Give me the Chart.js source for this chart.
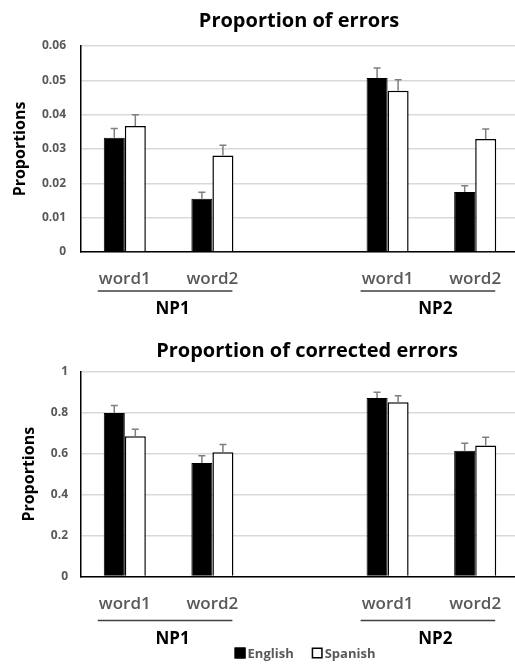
<!DOCTYPE html>
<html><head><meta charset="utf-8">
<script src="https://cdn.jsdelivr.net/npm/chart.js@4/dist/chart.umd.min.js"></script>
<style>
html,body{margin:0;padding:0;background:#fff;width:515px;height:665px;overflow:hidden;position:relative;}
#c1{position:absolute;left:0;top:0;}
#c2{position:absolute;left:0;top:320px;}
</style></head><body>
<canvas id="c1" width="525" height="320"></canvas>
<canvas id="c2" width="525" height="345"></canvas>
<script>
// ---- data ----
const categories = ['word1', 'word2', '', 'word1', 'word2'];
const groups = ['NP1', 'NP2'];
const seriesNames = ['English', 'Spanish'];
const chartTitles = ['Proportion of errors', 'Proportion of corrected errors'];
const yAxisTitle = 'Proportions';

const errorsEnglish    = [0.0333, 0.0155, null, 0.0507, 0.0175];
const errorsSpanish    = [0.0367, 0.0281, null, 0.0470, 0.0329];
const errorsEnglishErr = [0.0027, 0.0019, null, 0.0029, 0.0018];
const errorsSpanishErr = [0.0033, 0.0030, null, 0.0032, 0.0029];
const errorsTicks      = ['0', '0.01', '0.02', '0.03', '0.04', '0.05', '0.06'];

const correctedEnglish    = [0.800, 0.555, null, 0.873, 0.615];
const correctedSpanish    = [0.686, 0.607, null, 0.852, 0.640];
const correctedEnglishErr = [0.036, 0.035, null, 0.028, 0.037];
const correctedSpanishErr = [0.034, 0.039, null, 0.032, 0.041];
const correctedTicks      = ['0', '0.2', '0.4', '0.6', '0.8', '1'];

const FONT = "'Open Sans', sans-serif";
Chart.defaults.font.family = FONT;
Chart.defaults.devicePixelRatio = 1;

const errorBars = {
  id: 'errorBars',
  afterDatasetsDraw(chart) {
    const ctx = chart.ctx, ys = chart.scales.y;
    chart.data.datasets.forEach((ds, i) => {
      const meta = chart.getDatasetMeta(i);
      meta.data.forEach((bar, j) => {
        const v = ds.data[j], e = ds.errors[j];
        if (v == null || e == null) return;
        const x = bar.x, y0 = ys.getPixelForValue(v), y1 = ys.getPixelForValue(v + e);
        ctx.save();
        ctx.strokeStyle = '#7f7f7f';
        ctx.lineWidth = 1.5;
        ctx.beginPath();
        ctx.moveTo(x, y0); ctx.lineTo(x, y1);
        ctx.moveTo(x - 3.5, y1); ctx.lineTo(x + 3.5, y1);
        ctx.stroke();
        ctx.restore();
      });
    });
  }
};

const decor = {
  id: 'decor',
  afterDraw(chart, args, o) {
    const ctx = chart.ctx, xs = chart.scales.x, ca = chart.chartArea;
    ctx.save();
    // title
    ctx.fillStyle = '#000';
    ctx.font = 'bold ' + o.titleSize + 'px ' + FONT;
    ctx.textAlign = 'center';
    ctx.textBaseline = 'middle';
    ctx.fillText(o.title, (ca.left + ca.right) / 2 + o.titleDx, o.titleY);
    // group underlines and labels
    groups.forEach((g, k) => {
      const a = xs.getPixelForValue(k * 3), b = xs.getPixelForValue(k * 3 + 1);
      ctx.strokeStyle = '#404040';
      ctx.lineWidth = 1.5;
      ctx.beginPath();
      ctx.moveTo(a - 27, ca.bottom + o.lineDy);
      ctx.lineTo(b + 20, ca.bottom + o.lineDy);
      ctx.stroke();
      ctx.fillStyle = '#000';
      ctx.font = 'bold 17px ' + FONT;
      ctx.textAlign = 'center';
      ctx.fillText(g, (a + b) / 2 + 4, ca.bottom + o.groupDy);
    });
    // legend
    if (o.legendY) {
      ctx.font = 'bold 13px ' + FONT;
      ctx.textAlign = 'left';
      const sq = 11, gap = 2, sp = 18;
      const widths = seriesNames.map(n => ctx.measureText(n).width);
      const total = widths.reduce((s, w) => s + sq + gap + w, 0) + sp;
      let x = (ca.left + ca.right) / 2 + 5 - total / 2;
      const y = o.legendY;
      chart.data.datasets.forEach((ds, i) => {
        ctx.fillStyle = ds.backgroundColor;
        ctx.fillRect(x, y - sq / 2, sq, sq);
        ctx.strokeStyle = '#000';
        ctx.lineWidth = 1.5;
        ctx.strokeRect(x + 0.75, y - sq / 2 + 0.75, sq - 1.5, sq - 1.5);
        ctx.fillStyle = '#595959';
        ctx.fillText(seriesNames[i], x + sq + gap, y + 1);
        x += sq + gap + widths[i] + sp;
      });
    }
    ctx.restore();
  }
};

function makeChart(id, eng, spa, engErr, spaErr, ticks, max, step, opt) {
  return new Chart(document.getElementById(id), {
    type: 'bar',
    data: {
      labels: categories,
      datasets: [
        { label: seriesNames[0], data: eng, errors: engErr, backgroundColor: '#000', borderColor: '#000', borderWidth: 1 },
        { label: seriesNames[1], data: spa, errors: spaErr, backgroundColor: '#fff', borderColor: '#000', borderWidth: 1.5 }
      ]
    },
    options: {
      responsive: false,
      animation: false,
      devicePixelRatio: 1,
      layout: { padding: { top: opt.top, right: 6, left: 0, bottom: 0 } },
      datasets: { bar: { categoryPercentage: 0.48, barPercentage: 1.0 } },
      plugins: {
        legend: { display: false },
        tooltip: { enabled: false },
        decor: opt.decor
      },
      scales: {
        x: {
          grid: { display: false, drawTicks: false },
          border: { display: true, color: '#000', width: 1.5 },
          ticks: { color: '#595959', font: { size: 17, weight: '600' }, padding: opt.xPad, autoSkip: false, maxRotation: 0 },
          afterFit: s => { s.height = opt.xHeight; }
        },
        y: {
          min: 0, max: max,
          grid: { color: '#d9d9d9', lineWidth: 1.5, drawTicks: false, tickLength: 0 },
          border: { display: true, color: '#000', width: 1.5 },
          ticks: {
            stepSize: step, padding: opt.yPad, color: '#595959',
            font: { size: 12, weight: 'bold' },
            callback: (v, i) => ticks[i]
          },
          title: { display: true, text: yAxisTitle, color: '#000', font: { size: 16, weight: 'bold' }, padding: { top: opt.yTitlePad, bottom: 0 } },
          afterFit: s => { s.width = 81; }
        }
      }
    },
    plugins: [errorBars, decor]
  });
}

makeChart('c1', errorsEnglish, errorsSpanish, errorsEnglishErr, errorsSpanishErr, errorsTicks, 0.06, 0.01, {
  top: 46, xHeight: 68, xPad: 17, yPad: 15, yTitlePad: 11,
  decor: { title: chartTitles[0], titleSize: 20, titleDx: -1, titleY: 21, lineDy: 39, groupDy: 57 }
});
makeChart('c2', correctedEnglish, correctedSpanish, correctedEnglishErr, correctedSpanishErr, correctedTicks, 1, 0.2, {
  top: 52, xHeight: 88.5, xPad: 17, yPad: 13, yTitlePad: 20,
  decor: { title: chartTitles[1], titleSize: 20, titleDx: 7, titleY: 31, lineDy: 44, groupDy: 63, legendY: 333 }
});
</script>
</body></html>
